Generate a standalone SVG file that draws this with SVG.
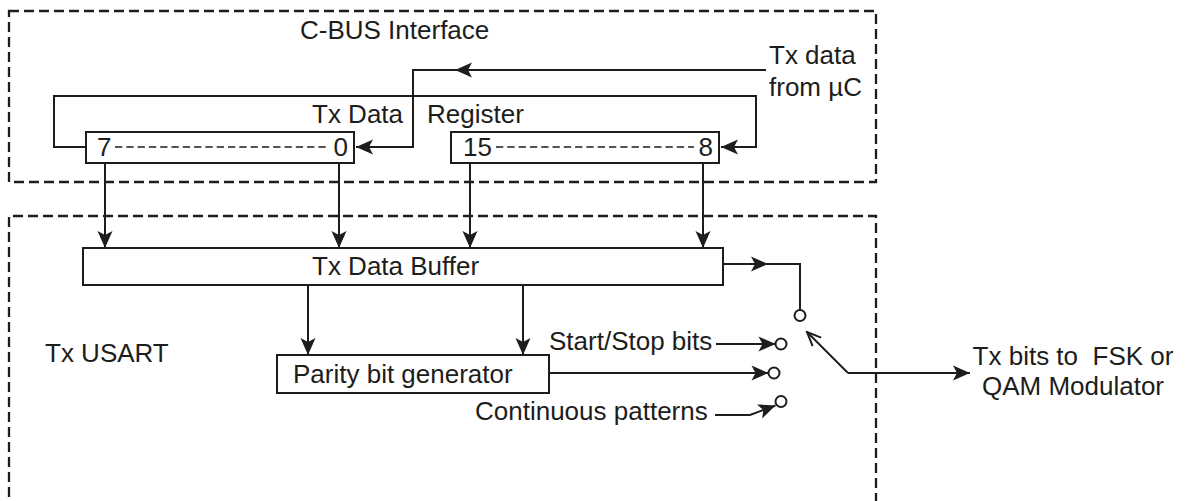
<svg xmlns="http://www.w3.org/2000/svg" width="1185" height="501" viewBox="0 0 1185 501">
<style>
  .frame { fill: none; stroke: #1d1d1b; stroke-width: 2.3; stroke-dasharray: 10 5; }
  .box { fill: #fff; stroke: #1d1d1b; stroke-width: 2; }
  .wire { fill: none; stroke: #1d1d1b; stroke-width: 2; }
  .dots { fill: none; stroke: #1d1d1b; stroke-width: 1.5; stroke-dasharray: 7.3 4; }
  .arr { marker-end: url(#ah); }
  .pin { fill: #fff; stroke: #1d1d1b; stroke-width: 2; }
  text { font-family: "Liberation Sans", Arial, sans-serif; font-size: 26px; fill: #1d1d1b; }
</style>
<defs>
  <marker id="ah" markerUnits="userSpaceOnUse" viewBox="-19 -9 20 18" refX="0" refY="0" markerWidth="20" markerHeight="18" orient="auto">
    <path d="M0,0 L-17,-7.5 L-13,0 L-17,7.5 Z" fill="#1d1d1b"/>
  </marker>
  <marker id="open" markerUnits="userSpaceOnUse" viewBox="-16 -8 18 16" refX="0" refY="0" markerWidth="18" markerHeight="16" orient="auto">
    <path d="M-14,-6 L0,0 L-14,6" fill="none" stroke="#1d1d1b" stroke-width="2"/>
  </marker>
</defs>

<g id="cbus-interface">
  <rect class="frame" x="9" y="11" width="867" height="171"/>
  <text x="300" y="39">C-BUS Interface</text>
</g>
<g id="tx-usart">
  <path class="frame" d="M9,512 V216 H876 V512"/>
  <text x="45" y="362">Tx USART</text>
</g>

<g id="tx-data-input-label">
  <text x="769" y="64">Tx data</text>
  <text x="769" y="96">from µC</text>
</g>
<g id="register-label">
  <text x="312" y="123">Tx Data</text>
  <text x="427" y="123">Register</text>
</g>

<g id="register-low">
  <rect class="box" x="86" y="132" width="268" height="31"/>
  <line class="dots" x1="115" y1="147" x2="329" y2="147"/>
  <text x="97" y="156">7</text>
  <text x="348" y="156" text-anchor="end">0</text>
</g>
<g id="register-high">
  <rect class="box" x="451" y="132" width="268" height="31"/>
  <line class="dots" x1="496" y1="147" x2="694" y2="147"/>
  <text x="463" y="156">15</text>
  <text x="713" y="156" text-anchor="end">8</text>
</g>

<g id="tx-data-buffer">
  <rect class="box" x="83" y="248" width="640" height="37"/>
  <text x="312" y="275">Tx Data Buffer</text>
</g>

<g id="parity-generator">
  <rect class="box" x="277" y="355" width="272" height="38"/>
  <text x="293" y="383">Parity bit generator</text>
</g>

<g id="start-stop-label">
  <text x="549" y="350">Start/Stop bits</text>
</g>
<g id="continuous-label">
  <text x="475" y="420">Continuous patterns</text>
</g>
<g id="output-label">
  <text x="1073" y="365" text-anchor="middle" xml:space="preserve">Tx bits to  FSK or</text>
  <text x="1073" y="395" text-anchor="middle">QAM Modulator</text>
</g>

<g id="switch">
  <circle class="pin" cx="800" cy="315.5" r="5.5"/>
  <circle class="pin" cx="781" cy="344" r="5.5"/>
  <circle class="pin" cx="774" cy="373" r="5.5"/>
  <circle class="pin" cx="781" cy="401.5" r="5.5"/>
</g>

<g id="connectors">
  <path class="wire arr" d="M766,70 H455"/>
  <path class="wire arr" d="M455,70 H413 V147 H356"/>
  <path class="wire arr" d="M86,147 H54 V96 H756 V147 H721"/>
  <path class="wire arr" d="M105,163 V248"/>
  <path class="wire arr" d="M339,163 V248"/>
  <path class="wire arr" d="M470,163 V248"/>
  <path class="wire arr" d="M703,163 V248"/>
  <path class="wire arr" d="M308,285 V355"/>
  <path class="wire arr" d="M523,285 V355"/>
  <path class="wire arr" d="M723,264 H768"/>
  <path class="wire" d="M768,264 H800 V310"/>
  <path class="wire arr" d="M716,344 H775.5"/>
  <path class="wire arr" d="M549,373 H768.5"/>
  <path class="wire arr" d="M715,415 H750 L775.5,405.5"/>
  <path class="wire" d="M848,373 L807,332" marker-end="url(#open)"/>
  <path class="wire arr" d="M848,373 H970"/>
</g>
</svg>
